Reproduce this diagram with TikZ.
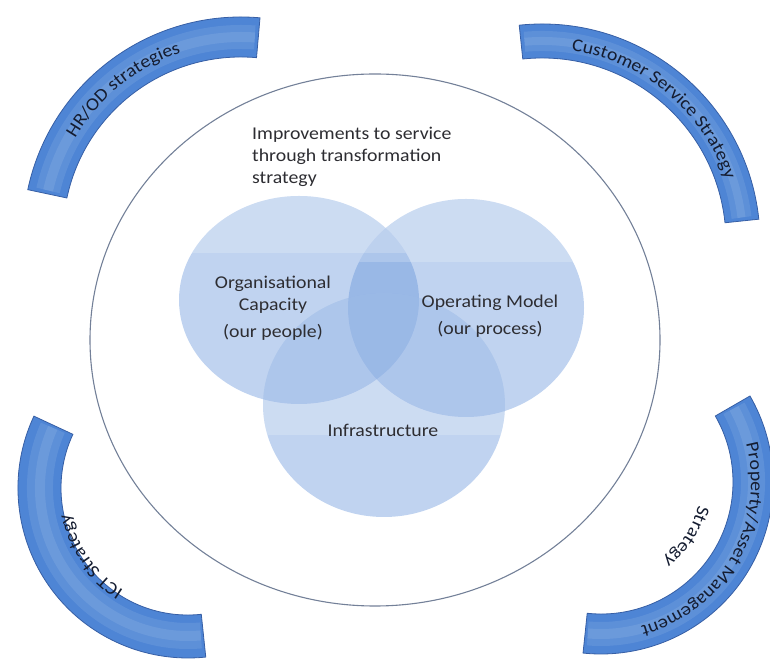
\documentclass[tikz,border=0pt]{standalone}
\usepackage{fontspec}
\setmainfont{Carlito}[FakeStretch=1.1]
\usetikzlibrary{decorations.text}

\definecolor{bandblue}{RGB}{78,133,213}
\definecolor{bandrim}{RGB}{55,95,165}
\definecolor{vennblue}{RGB}{90,140,215}
\definecolor{rimgray}{RGB}{115,128,152}
\definecolor{inkgray}{RGB}{45,45,50}
\definecolor{inknavy}{RGB}{20,28,48}

\begin{document}
\begin{tikzpicture}[x=1pt,y=1pt,
  venn/.style={fill=vennblue, fill opacity=0.38},
  gloss/.style={fill=white, fill opacity=0.2},
  band/.style={fill=bandblue, draw=bandrim, line width=0.8pt},
  shine/.style={draw=white, opacity=0.09, line width=#1},
  lbl/.style={inner sep=0pt, text=inkgray, font=\fontsize{18}{22}\selectfont, align=center},
  bandtext/.style={decorate, decoration={text along path, text align=center,
    text={|\fontsize{18}{22}\selectfont\color{inknavy}|#1}}}]

\useasboundingbox (0,0) rectangle (770,666);
\clip (0,0) rectangle (770,666);

% outer ring
\draw[rimgray, line width=1.1pt] (375,326) ellipse[x radius=285, y radius=266];

% the three sets
\fill[venn] (299,366) ellipse[x radius=120, y radius=104];
\fill[venn] (466,358) ellipse[x radius=118, y radius=109];
\fill[venn] (384,261) ellipse[x radius=121, y radius=112];
% lighter top of each set
\begin{scope}
\clip (299,366) ellipse[x radius=120, y radius=104];
\fill[gloss] (170,413) rectangle (430,480);
\end{scope}
\begin{scope}
\clip (466,358) ellipse[x radius=118, y radius=109];
\fill[gloss] (340,404) rectangle (600,480);
\end{scope}
\begin{scope}
\clip (384,261) ellipse[x radius=121, y radius=112];
\fill[gloss] (250,231) rectangle (520,380);
\end{scope}

% HR/OD band
\begin{scope}[shift={(241,431)}]
\fill[band] (85:218) arc[start angle=85, end angle=168, radius=218] -- (168:178) arc[start angle=168, end angle=85, radius=178] -- cycle;
\draw[shine=24pt] (86:198) arc[start angle=86, end angle=167, radius=198];
\draw[shine=10pt] (86:198) arc[start angle=86, end angle=167, radius=198];
\path[bandtext={HR/OD strategies}] (150:192) arc[start angle=150, end angle=108, radius=192];
\end{scope}

% customer band
\begin{scope}[shift={(542,424)}]
\fill[band] (96:218) arc[start angle=96, end angle=6, radius=218] -- (6:184) arc[start angle=6, end angle=96, radius=184] -- cycle;
\draw[shine=20pt] (95:201) arc[start angle=95, end angle=7, radius=201];
\draw[shine=8pt] (95:201) arc[start angle=95, end angle=7, radius=201];
\path[bandtext={Customer Service Strategy}] (82:194) arc[start angle=82, end angle=18, radius=194];
\end{scope}

% ICT band
\begin{scope}[shift={(188,178)}]
\fill[band] (155:170) arc[start angle=155, end angle=276, radius=170] -- (276:127) arc[start angle=276, end angle=155, radius=127] -- cycle;
\draw[shine=26pt] (156:148) arc[start angle=156, end angle=275, radius=148];
\draw[shine=10pt] (156:148) arc[start angle=156, end angle=275, radius=148];
\path[bandtext={ICT Strategy}] (237:121) arc[start angle=237, end angle=193, radius=121];
\end{scope}

% property band
\begin{scope}[shift={(601,184)}]
\fill[band] (30:172) arc[start angle=30, end angle=-96, radius=172] -- (-96:132) arc[start angle=-96, end angle=30, radius=132] -- cycle;
\draw[shine=24pt] (29:152) arc[start angle=29, end angle=-95, radius=152];
\draw[shine=10pt] (29:152) arc[start angle=29, end angle=-95, radius=152];
\path[bandtext={Property/Asset Management}] (25:150) arc[start angle=25, end angle=-85, radius=150];
\path[bandtext={Strategy}] (-10:100) arc[start angle=-10, end angle=-55, radius=100];
\end{scope}

% labels
\node[lbl, anchor=west, align=left] (improve) at (252,509) {Improvements to service\\through transformation\\strategy};
\node[lbl] (orgcap) at (273,358) {Organisational\\Capacity\\[5pt](our people)};
\node[lbl] (opmodel) at (490,350) {Operating Model\\[5pt](our process)};
\node[lbl] (infra) at (383,236) {Infrastructure};

\end{tikzpicture}
\end{document}
